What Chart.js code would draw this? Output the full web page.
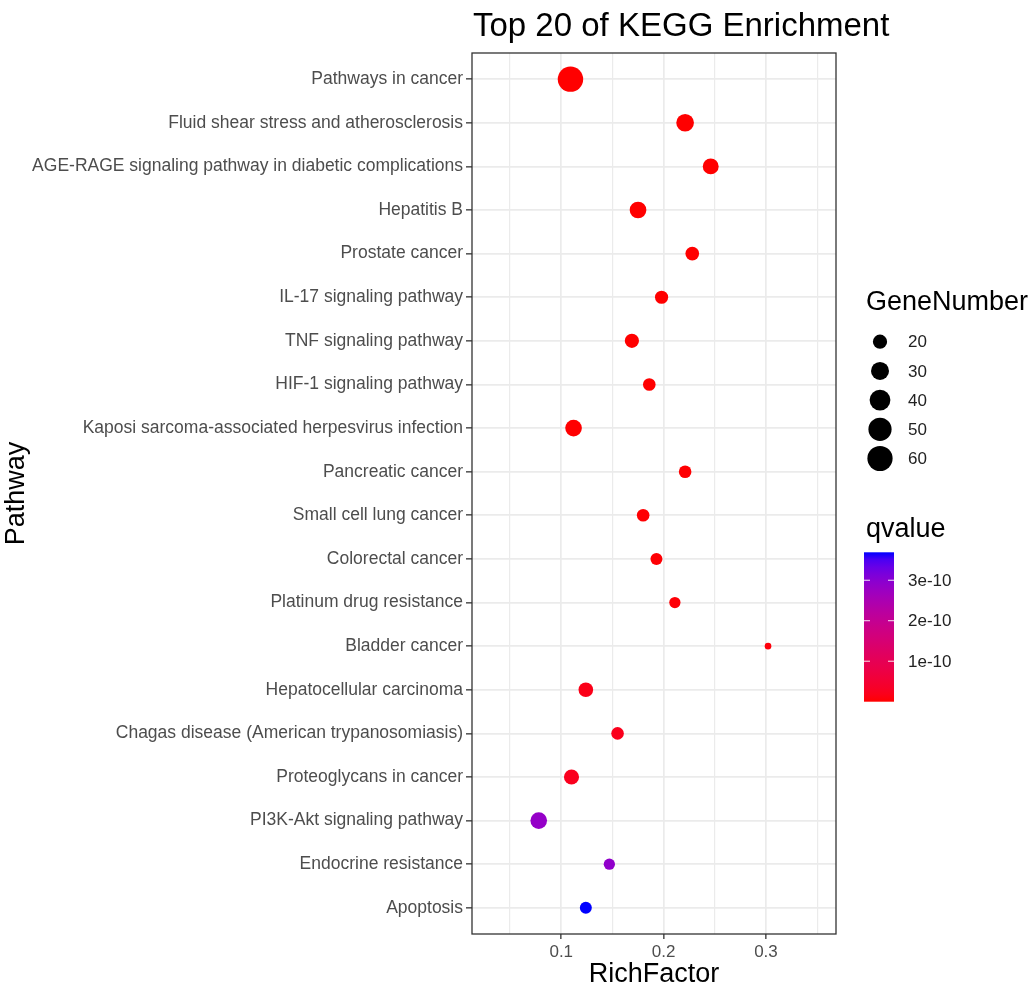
<!DOCTYPE html>
<html lang="en">
<head>
    <meta charset="UTF-8">
    <title>Top 20 of KEGG Enrichment</title>
    <style>
        html, body { margin: 0; padding: 0; background: #fff; }
        #wrap { width: 1032px; height: 992px; }
    </style>
</head>
<body>
<div id="wrap"><canvas id="keggChart"></canvas></div>

<script src="https://cdn.jsdelivr.net/npm/chart.js"></script>
<script>
// top to bottom, as in the picture
var pathways = [
    'Pathways in cancer',
    'Fluid shear stress and atherosclerosis',
    'AGE-RAGE signaling pathway in diabetic complications',
    'Hepatitis B',
    'Prostate cancer',
    'IL-17 signaling pathway',
    'TNF signaling pathway',
    'HIF-1 signaling pathway',
    'Kaposi sarcoma-associated herpesvirus infection',
    'Pancreatic cancer',
    'Small cell lung cancer',
    'Colorectal cancer',
    'Platinum drug resistance',
    'Bladder cancer',
    'Hepatocellular carcinoma',
    'Chagas disease (American trypanosomiasis)',
    'Proteoglycans in cancer',
    'PI3K-Akt signaling pathway',
    'Endocrine resistance',
    'Apoptosis'
];
var richFactor = [0.109, 0.221, 0.246, 0.175, 0.228, 0.198, 0.169, 0.186, 0.112, 0.221,
                  0.180, 0.193, 0.211, 0.302, 0.124, 0.155, 0.110, 0.078, 0.147, 0.124];
var geneNumber = [61, 29, 24, 26, 19, 18, 20, 17, 26, 17,
                  17, 16, 15, 12, 21, 17, 22, 26, 15, 16];
var qvalue = [2.1e-21, 8.5e-16, 4.2e-15, 1.3e-14, 3.6e-14, 6.0e-14, 1.1e-13, 2.3e-13, 4.1e-13, 9.8e-13,
              1.5e-12, 2.6e-12, 3.9e-12, 6.2e-12, 1.6e-11, 2.0e-11, 2.3e-11, 2.85e-10, 2.9e-10, 3.69e-10];

var xTicks = [0.05, 0.1, 0.15, 0.2, 0.25, 0.3, 0.35];
var sizeBreaks = [20, 30, 40, 50, 60];
var qBreaks = [1e-10, 2e-10, 3e-10];
var qLabels = ['1e-10', '2e-10', '3e-10'];

var FONT = "'Liberation Sans', Arial, Helvetica, sans-serif";
var sizeRange = [3.3, 12.7];   // point radius in px, like scale_size()
var lowColor = [255, 0, 0];
var highColor = [0, 0, 255];

var nMin = Math.min.apply(null, geneNumber), nMax = Math.max.apply(null, geneNumber);
var qMin = Math.min.apply(null, qvalue), qMax = Math.max.apply(null, qvalue);

function pointSize(n) {
    return sizeRange[0] + (sizeRange[1] - sizeRange[0]) * Math.sqrt((n - nMin) / (nMax - nMin));
}

// colour ramp in Lab space, like scale_colour_gradient
function toLinear(c) { c /= 255; return c <= 0.04045 ? c / 12.92 : Math.pow((c + 0.055) / 1.055, 2.4); }
function toSrgb(c) { c = c <= 0.0031308 ? 12.92 * c : 1.055 * Math.pow(c, 1 / 2.4) - 0.055; return Math.round(Math.max(0, Math.min(1, c)) * 255); }
function rgbToLab(rgb) {
    var r = toLinear(rgb[0]), g = toLinear(rgb[1]), b = toLinear(rgb[2]);
    var x = (0.4124 * r + 0.3576 * g + 0.1805 * b) / 0.95047;
    var y = 0.2126 * r + 0.7152 * g + 0.0722 * b;
    var z = (0.0193 * r + 0.1192 * g + 0.9505 * b) / 1.08883;
    var f = function(t) { return t > 0.008856 ? Math.cbrt(t) : 7.787 * t + 16 / 116; };
    var fx = f(x), fy = f(y), fz = f(z);
    return [116 * fy - 16, 500 * (fx - fy), 200 * (fy - fz)];
}
function labToRgb(lab) {
    var fy = (lab[0] + 16) / 116, fx = fy + lab[1] / 500, fz = fy - lab[2] / 200;
    var inv = function(t) { return t * t * t > 0.008856 ? t * t * t : (t - 16 / 116) / 7.787; };
    var x = inv(fx) * 0.95047, y = inv(fy), z = inv(fz) * 1.08883;
    var r = 3.2406 * x - 1.5372 * y - 0.4986 * z;
    var g = -0.9689 * x + 1.8758 * y + 0.0415 * z;
    var b = 0.0557 * x - 0.2040 * y + 1.0570 * z;
    return 'rgb(' + toSrgb(r) + ',' + toSrgb(g) + ',' + toSrgb(b) + ')';
}
var labLow = rgbToLab(lowColor), labHigh = rgbToLab(highColor);
function rampColor(t) {
    return labToRgb([0, 1, 2].map(function(k) { return labLow[k] + (labHigh[k] - labLow[k]) * t; }));
}
function qColor(q) { return rampColor((q - qMin) / (qMax - qMin)); }

function isMajor(v) { return Math.abs(v * 10 - Math.round(v * 10)) < 1e-9; }

// title, legends and panel border, drawn the ggplot way
var ggDecor = {
    id: 'ggDecor',
    afterDraw: function(chart) {
        var ctx = chart.ctx, area = chart.chartArea;
        ctx.save();

        ctx.strokeStyle = '#333333';
        ctx.lineWidth = 1.3;
        ctx.strokeRect(area.left, area.top, area.right - area.left, area.bottom - area.top);

        ctx.fillStyle = '#000';
        ctx.textAlign = 'left';
        ctx.textBaseline = 'alphabetic';
        ctx.font = '33px ' + FONT;
        ctx.fillText('Top 20 of KEGG Enrichment', area.left + 1, 36);

        // size legend
        ctx.font = '27px ' + FONT;
        ctx.fillText('GeneNumber', 866, 310);
        ctx.font = '17px ' + FONT;
        ctx.textBaseline = 'middle';
        sizeBreaks.forEach(function(n, i) {
            var y = 341.7 + i * 29.2;
            ctx.fillStyle = '#000';
            ctx.beginPath();
            ctx.arc(880, y, pointSize(n), 0, Math.PI * 2);
            ctx.fill();
            ctx.fillStyle = '#222';
            ctx.fillText(String(n), 908, y + 1);
        });

        // colour bar
        ctx.fillStyle = '#000';
        ctx.textBaseline = 'alphabetic';
        ctx.font = '27px ' + FONT;
        ctx.fillText('qvalue', 866, 537);

        var bx = 864, by = 552.3, bw = 30, bh = 149.4;
        var grad = ctx.createLinearGradient(0, by + bh, 0, by);
        for (var s = 0; s <= 20; s++) grad.addColorStop(s / 20, rampColor(s / 20));
        ctx.fillStyle = grad;
        ctx.fillRect(bx, by, bw, bh);

        ctx.font = '17px ' + FONT;
        ctx.textBaseline = 'middle';
        qBreaks.forEach(function(q, i) {
            var y = by + bh - (q - qMin) / (qMax - qMin) * bh;
            ctx.strokeStyle = 'rgba(255,255,255,0.9)';
            ctx.lineWidth = 1;
            ctx.beginPath();
            ctx.moveTo(bx, y); ctx.lineTo(bx + 6, y);
            ctx.moveTo(bx + bw - 6, y); ctx.lineTo(bx + bw, y);
            ctx.stroke();
            ctx.fillStyle = '#222';
            ctx.fillText(qLabels[i], 908, y + 1);
        });

        ctx.restore();
    }
};

var points = pathways.map(function(p, i) { return {x: richFactor[i], y: i}; });

var keggChart = new Chart(document.getElementById('keggChart'), {
    type: 'scatter',
    data: {
        datasets: [{
            label: 'Pathway',
            data: points,
            pointRadius: function(c) { return pointSize(geneNumber[c.dataIndex]); },
            pointHoverRadius: function(c) { return pointSize(geneNumber[c.dataIndex]); },
            pointBackgroundColor: function(c) { return qColor(qvalue[c.dataIndex]); },
            pointBorderWidth: 0,
            pointHoverBorderWidth: 0
        }]
    },
    options: {
        responsive: true,
        maintainAspectRatio: false,
        animation: false,
        events: [],
        layout: { padding: { top: 53, right: 196, bottom: 0, left: 0 } },
        scales: {
            x: {
                type: 'linear',
                min: 0.0128,
                max: 0.3684,
                afterBuildTicks: function(scale) {
                    scale.ticks = xTicks.map(function(v) { return {value: v}; });
                },
                afterFit: function(scale) { scale.height = 58; },
                border: { display: false },
                grid: {
                    color: '#EBEBEB',
                    lineWidth: function(c) { return c.tick && isMajor(c.tick.value) ? 1.7 : 1.2; },
                    tickColor: function(c) { return c.tick && isMajor(c.tick.value) ? '#333333' : 'rgba(0,0,0,0)'; },
                    tickLength: 5,
                    tickWidth: 1.3
                },
                ticks: {
                    autoSkip: false,
                    maxRotation: 0,
                    padding: 3,
                    color: '#4D4D4D',
                    font: { size: 17, family: FONT },
                    callback: function(value) { return isMajor(value) ? value.toFixed(1) : ''; }
                },
                title: {
                    display: true,
                    text: 'RichFactor',
                    color: '#000',
                    font: { size: 27, family: FONT },
                    padding: { top: 0, bottom: 1 }
                }
            },
            y: {
                type: 'linear',
                reverse: true,
                min: -0.6,
                max: pathways.length - 0.4,
                afterBuildTicks: function(scale) {
                    scale.ticks = pathways.map(function(p, i) { return {value: i}; });
                },
                afterFit: function(scale) { scale.width = 472; },
                border: { display: false },
                grid: {
                    color: '#EBEBEB',
                    lineWidth: 1.7,
                    tickColor: '#333333',
                    tickLength: 6,
                    tickWidth: 1.3
                },
                ticks: {
                    autoSkip: false,
                    padding: 3,
                    color: '#4D4D4D',
                    font: { size: 17.5, family: FONT },
                    callback: function(value) { return pathways[value]; }
                },
                title: {
                    display: true,
                    text: 'Pathway',
                    color: '#000',
                    font: { size: 27, family: FONT },
                    padding: { top: 0, bottom: 0 }
                }
            }
        },
        plugins: {
            legend: { display: false },
            title: { display: false },
            tooltip: { enabled: false }
        }
    },
    plugins: [ggDecor]
});
</script>
</body>
</html>
